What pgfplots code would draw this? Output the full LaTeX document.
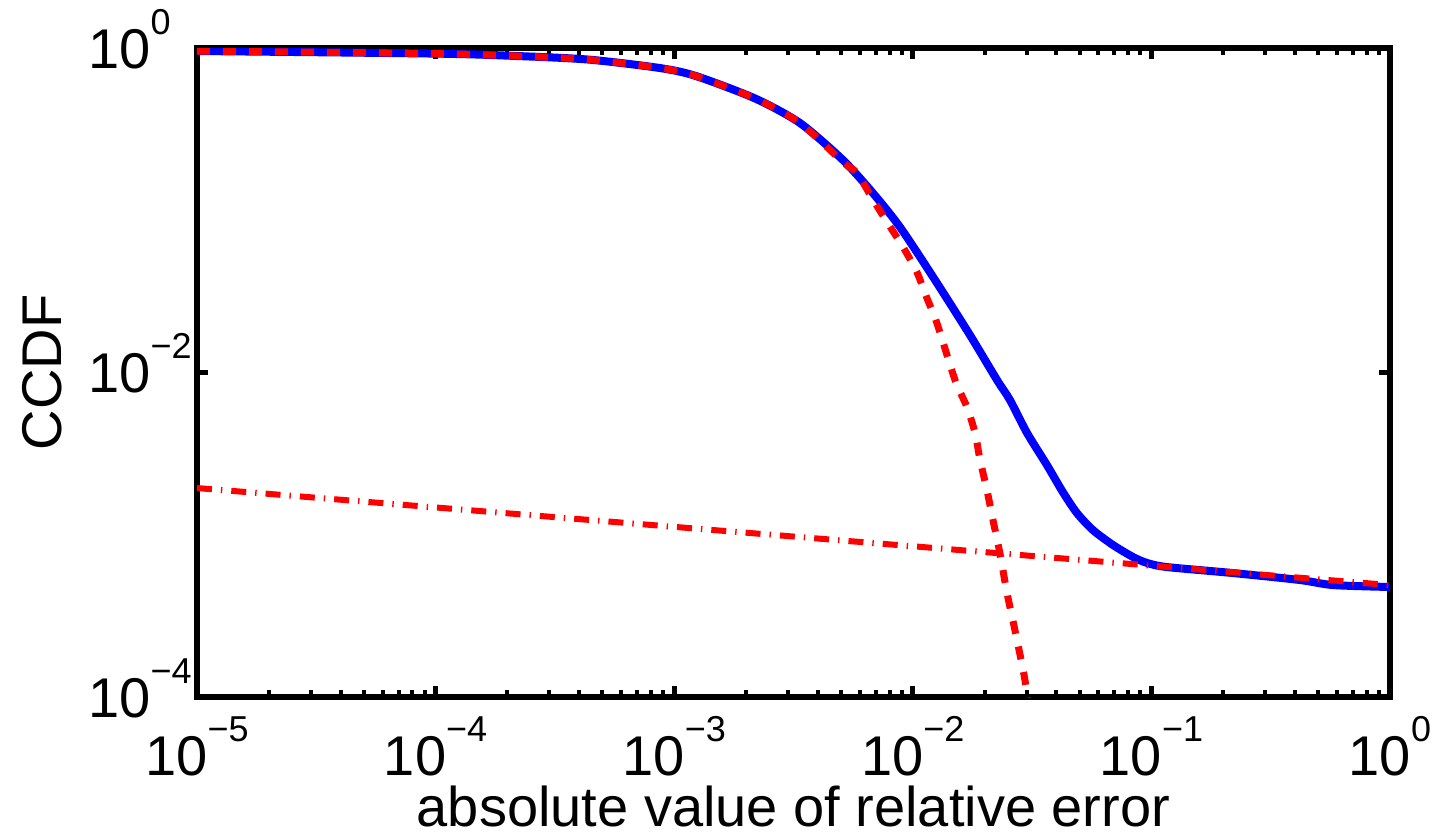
\documentclass[border=0pt]{standalone}
\usepackage{fontspec}
\setmainfont{Liberation Sans}
\usepackage{pgfplots}
\pgfplotsset{compat=1.18}
\usetikzlibrary{calc}
\newcommand\tl[1]{10\raisebox{17bp}{\fontsize{18bp}{18bp}\selectfont #1}}
\begin{document}
\begin{tikzpicture}
\begin{axis}[
 name=ax, at={(0,0)}, anchor=south west,
 scale only axis, width=596.5bp, height=324.5bp,
 xmode=log, ymode=log, xmin=1e-5, xmax=1, ymin=1e-4, ymax=1,
 xtick={1e-5,1e-4,1e-3,1e-2,1e-1,1},
 xticklabels={\tl{−5},\tl{−4},\tl{−3},\tl{−2},\tl{−1},\tl{0}},
 minor xtick={2e-5,3e-5,4e-5,5e-5,6e-5,7e-5,8e-5,9e-5,
   2e-4,3e-4,4e-4,5e-4,6e-4,7e-4,8e-4,9e-4,
   2e-3,3e-3,4e-3,5e-3,6e-3,7e-3,8e-3,9e-3,
   2e-2,3e-2,4e-2,5e-2,6e-2,7e-2,8e-2,9e-2,
   0.2,0.3,0.4,0.5,0.6,0.7,0.8,0.9},
 ytick={1e-4,1e-2,1},
 yticklabels={\tl{−4},\tl{−2},\tl{0}},
 yminorticks=false,
 tick align=inside,
 axis line style={line width=3bp},
 major tick style={line width=2.5bp, black},
 minor tick style={line width=2bp, black},
 major tick length=5.5bp, minor tick length=3.5bp,
 every tick label/.append style={font=\fontsize{28bp}{30bp}\selectfont},
 xticklabel style={anchor=base, inner sep=0pt, yshift=-39bp},
 yticklabel style={anchor=base west, inner sep=0pt, xshift=-54.5bp, yshift=-10bp},
 xlabel={absolute value of relative error},
 ylabel={CCDF},
 label style={font=\fontsize{28bp}{30bp}\selectfont},
 xlabel style={at={(axis description cs:0.5,-0.2)}, anchor=base, inner sep=0pt},
 ylabel style={at={(axis description cs:-0.11316,0.5)}, anchor=base, inner sep=0pt},
]
\addplot[blue, line width=4bp, line join=round, smooth, tension=0.45] coordinates {
(1e-5,0.9583) (9.943e-5,0.9237) (2.193e-4,0.8926) (4.395e-4,0.8482)
(8.71e-4,0.7527) (1.233e-3,0.6721) (2.183e-3,0.4887) (3.365e-3,0.3451)
(5.093e-3,0.2042) (6.808e-3,0.1276) (8.831e-3,0.0789) (0.01216,0.03882)
(0.01726,0.01726) (0.02254,0.008995) (0.02553,0.006776) (0.03013,0.004236)
(0.03648,0.002692) (0.04256,0.001832) (0.04875,0.001361) (0.05689,0.001069)
(0.06902,8.65e-4) (0.08375,7.295e-4) (0.09594,6.70e-4) (0.1161,6.324e-4)
(0.2198,5.808e-4) (0.4198,5.26e-4) (0.5768,4.898e-4) (1,4.764e-4)
};
\addplot[red, line width=3.5bp, dash pattern=on 6.5bp off 6.5bp, line join=round, smooth, tension=0.45] coordinates {
(1e-5,0.9583) (9.943e-5,0.9237) (2.193e-4,0.8926) (4.395e-4,0.8482)
(8.71e-4,0.7527) (1.233e-3,0.6721) (2.183e-3,0.4887) (3.365e-3,0.3451)
(5.093e-3,0.1983) (5.834e-3,0.1698) (6.745e-3,0.1191) (7.798e-3,0.08472)
(9.099e-3,0.05943) (0.01040,0.04159) (0.01146,0.02877) (0.01262,0.02018)
(0.01503,0.008995) (0.01687,0.006124) (0.01824,0.004236) (0.01914,0.002891)
(0.02046,0.001888) (0.02168,0.001233) (0.02317,7.727e-4) (0.02483,4.375e-4)
(0.02679,2.588e-4) (0.02951,1.274e-4) (0.03097,7.21e-5)
};
\addplot[red, line width=3bp, dash pattern=on 7.5bp off 4.5bp on 0.7bp off 4.5bp] coordinates {
(1e-5,1.941e-3) (1,4.898e-4)
};
\end{axis}
\pgfresetboundingbox
\path ($(ax.south west)+(-98.5bp,-67.5bp)$) rectangle ($(ax.north east)+(23bp,24bp)$);
\end{tikzpicture}
\end{document}
